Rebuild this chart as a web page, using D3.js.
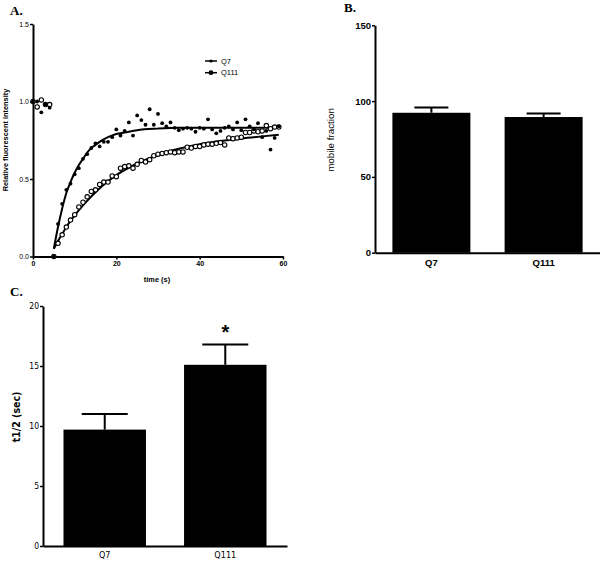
<!DOCTYPE html>
<html>
<head>
<meta charset="utf-8">
<script src="https://cdn.jsdelivr.net/npm/d3@7"></script>
<style>
  body { margin: 0; background: #fff; }
  svg { display: block; }
  text { fill: #000; }
</style>
</head>
<body>
<svg id="fig" width="600" height="563"></svg>
<script>
// panel A: FRAP recovery, one point per second
const times = [0,1,2,3,4,5,6,7,8,9,10,11,12,13,14,15,16,17,18,19,20,21,22,23,24,25,26,27,28,29,
  30,31,32,33,34,35,36,37,38,39,40,41,42,43,44,45,46,47,48,49,50,51,52,53,54,55,56,57,58,59];
const q7Values = [1.0,1.0,0.93,0.98,0.96,0.0,0.21,0.34,0.43,0.47,0.53,0.57,0.63,0.66,0.70,0.73,0.71,0.74,0.74,0.77,
  0.82,0.78,0.81,0.865,0.78,0.91,0.88,0.85,0.95,0.85,0.92,0.86,0.84,0.865,0.83,0.815,0.825,0.83,0.825,0.805,
  0.83,0.825,0.885,0.82,0.795,0.81,0.83,0.84,0.82,0.865,0.815,0.885,0.84,0.82,0.86,0.77,0.81,0.69,0.765,0.84];
const q111Values = [1.0,0.965,1.01,0.98,0.98,0.0,0.085,0.14,0.19,0.235,0.27,0.32,0.35,0.385,0.42,0.43,0.465,0.48,0.48,0.52,
  0.515,0.57,0.58,0.585,0.57,0.595,0.62,0.61,0.625,0.65,0.66,0.665,0.67,0.675,0.67,0.675,0.675,0.705,0.70,0.71,
  0.71,0.72,0.725,0.725,0.73,0.735,0.72,0.765,0.76,0.765,0.77,0.80,0.80,0.81,0.805,0.81,0.845,0.825,0.835,0.835];
// fitted recovery curves
const q7FitT = [5,6,7,8,9,10,11,12,13,14,15,16,18,20,22,25,30,35,40,50,59];
const q7FitY = [0.05,0.19,0.31,0.41,0.48,0.54,0.59,0.63,0.67,0.70,0.72,0.74,0.77,0.79,0.80,0.815,0.825,0.83,0.83,0.83,0.83];
const q111FitT = [5,6,7,8,10,12,15,18,20,25,30,35,40,45,50,55,59];
const q111FitY = [0.05,0.10,0.145,0.19,0.265,0.33,0.415,0.485,0.525,0.60,0.655,0.695,0.725,0.745,0.762,0.775,0.785];

// panels B and C
const groups = ["Q7", "Q111"];
const mobileFraction = [92.3, 89.5];
const mobileFractionErr = [3.5, 2.4];
const halfTime = [9.7, 15.1];
const halfTimeErr = [1.3, 1.7];

const svg = d3.select("#fig");
const sans = "'Liberation Sans', Arial, sans-serif";
const narrow = "'Liberation Sans Narrow', 'Arial Narrow', 'DejaVu Sans Condensed', sans-serif";

function styleAxis(g, font, size, weight) {
  g.select(".domain").attr("stroke", "#000").attr("stroke-width", 2);
  g.selectAll(".tick line").attr("stroke", "#000").attr("stroke-width", 1.5);
  g.selectAll(".tick text").attr("font-family", font).attr("font-size", size)
    .attr("font-weight", weight).attr("fill", "#000");
}

function panelLabel(txt, x, y) {
  svg.append("text").attr("x", x).attr("y", y).text(txt)
    .attr("font-family", "'Liberation Serif', 'Times New Roman', serif")
    .attr("font-weight", "bold").attr("font-size", 13);
}

// ---------- A ----------
const xA = d3.scaleLinear().domain([0, 60]).range([33, 283]);
const yA = d3.scaleLinear().domain([0, 1.5]).range([256.5, 24]);
const gA = svg.append("g");

gA.append("g").attr("transform", "translate(0,256.5)")
  .call(d3.axisBottom(xA).tickValues([0, 20, 40, 60]).tickSize(3).tickSizeOuter(0).tickPadding(2))
  .call(g => styleAxis(g, sans, 7, "bold"));
gA.append("g").attr("transform", "translate(33,0)")
  .call(d3.axisLeft(yA).tickValues([0, 0.5, 1, 1.5]).tickFormat(d3.format(".1f")).tickSize(3).tickSizeOuter(0).tickPadding(1))
  .call(g => styleAxis(g, sans, 7, "normal"));

const fitLine = d3.line().x(d => xA(d[0])).y(d => yA(d[1])).curve(d3.curveMonotoneX);
gA.append("path").datum(q7FitT.map((t, i) => [t, q7FitY[i]]))
  .attr("d", fitLine).attr("fill", "none").attr("stroke", "#000").attr("stroke-width", 2);
gA.append("path").datum(q111FitT.map((t, i) => [t, q111FitY[i]]))
  .attr("d", fitLine).attr("fill", "none").attr("stroke", "#000").attr("stroke-width", 2);

gA.append("g").selectAll("circle").data(times.map((t, i) => [t, q111Values[i]]))
  .join("circle").attr("cx", d => xA(d[0])).attr("cy", d => yA(d[1])).attr("r", 2.2)
  .attr("fill", "#fff").attr("stroke", "#000").attr("stroke-width", 1.1);
gA.append("g").selectAll("circle").data(times.map((t, i) => [t, q7Values[i]]))
  .join("circle").attr("cx", d => xA(d[0])).attr("cy", d => yA(d[1])).attr("r", 1.9)
  .attr("fill", "#000");

// legend
const legA = gA.append("g");
groups.forEach((name, i) => {
  const y = 61 + i * 11.7;
  legA.append("line").attr("x1", 205).attr("x2", 217).attr("y1", y).attr("y2", y)
    .attr("stroke", "#000").attr("stroke-width", 1.5);
  legA.append("circle").attr("cx", 211).attr("cy", y).attr("r", i === 0 ? 1.6 : 2.4).attr("fill", "#000");
  legA.append("text").attr("x", 221).attr("y", y + 2.6).text(name)
    .attr("font-family", sans).attr("font-size", 7.5);
});

gA.append("text").attr("transform", "translate(8,140) rotate(-90)").attr("text-anchor", "middle")
  .text("Relative fluorescent intensity").attr("font-family", sans).attr("font-size", 7.4).attr("font-weight", "bold");
gA.append("text").attr("x", 157).attr("y", 282).attr("text-anchor", "middle")
  .text("time (s)").attr("font-family", sans).attr("font-size", 7.4).attr("font-weight", "bold");
panelLabel("A.", 10, 15);

// ---------- B ----------
const xB = d3.scaleBand().domain(groups).range([375, 600]).paddingInner(0.305).paddingOuter(0.155);
const yB = d3.scaleLinear().domain([0, 150]).range([252.7, 25.3]);
const gB = svg.append("g");

gB.append("g").selectAll("rect").data(groups).join("rect")
  .attr("x", d => xB(d)).attr("width", xB.bandwidth())
  .attr("y", (d, i) => yB(mobileFraction[i])).attr("height", (d, i) => yB(0) - yB(mobileFraction[i]))
  .attr("fill", "#000");
groups.forEach((d, i) => {
  const cx = xB(d) + xB.bandwidth() / 2;
  const top = yB(mobileFraction[i] + mobileFractionErr[i]);
  gB.append("line").attr("x1", cx).attr("x2", cx).attr("y1", yB(mobileFraction[i])).attr("y2", top)
    .attr("stroke", "#000").attr("stroke-width", 2);
  gB.append("line").attr("x1", cx - 17).attr("x2", cx + 17).attr("y1", top).attr("y2", top)
    .attr("stroke", "#000").attr("stroke-width", 2);
});

gB.append("g").attr("transform", `translate(0,${yB(0)})`)
  .call(d3.axisBottom(xB).tickSize(0).tickSizeOuter(0).tickPadding(7))
  .call(g => styleAxis(g, sans, 9.5, "bold"));
gB.append("g").attr("transform", "translate(375,0)")
  .call(d3.axisLeft(yB).tickValues([0, 50, 100, 150]).tickSize(3).tickSizeOuter(0).tickPadding(1))
  .call(g => styleAxis(g, sans, 9.5, "bold"));

gB.append("text").attr("transform", "translate(334,140) rotate(-90)").attr("text-anchor", "middle")
  .text("mobile fraction").attr("font-family", sans).attr("font-size", 9.8);
panelLabel("B.", 344, 12);

// ---------- C ----------
const xC = d3.scaleBand().domain(groups).range([43, 287]).paddingInner(0.316).paddingOuter(0.17);
const yC = d3.scaleLinear().domain([0, 20]).range([546, 306]);
const gC = svg.append("g");

gC.append("g").selectAll("rect").data(groups).join("rect")
  .attr("x", d => xC(d)).attr("width", xC.bandwidth())
  .attr("y", (d, i) => yC(halfTime[i])).attr("height", (d, i) => yC(0) - yC(halfTime[i]))
  .attr("fill", "#000");
groups.forEach((d, i) => {
  const cx = xC(d) + xC.bandwidth() / 2;
  const top = yC(halfTime[i] + halfTimeErr[i]);
  gC.append("line").attr("x1", cx).attr("x2", cx).attr("y1", yC(halfTime[i])).attr("y2", top)
    .attr("stroke", "#000").attr("stroke-width", 2);
  gC.append("line").attr("x1", cx - 23).attr("x2", cx + 23).attr("y1", top).attr("y2", top)
    .attr("stroke", "#000").attr("stroke-width", 2);
});
// significance mark over Q111
gC.append("text").attr("x", xC("Q111") + xC.bandwidth() / 2).attr("y", 339).attr("text-anchor", "middle")
  .text("*").attr("font-family", sans).attr("font-weight", "bold").attr("font-size", 20);

gC.append("g").attr("transform", `translate(0,${yC(0)})`)
  .call(d3.axisBottom(xC).tickSize(0).tickSizeOuter(0).tickPadding(6))
  .call(g => styleAxis(g, narrow, 9, "normal"));
gC.append("g").attr("transform", "translate(43,0)")
  .call(d3.axisLeft(yC).tickValues([0, 5, 10, 15, 20]).tickSize(3).tickSizeOuter(0).tickPadding(1))
  .call(g => styleAxis(g, narrow, 8.5, "normal"));

gC.append("text").attr("transform", "translate(20,417) rotate(-90)").attr("text-anchor", "middle")
  .text("t1/2 (sec)").attr("font-family", narrow).attr("font-size", 10.5).attr("font-weight", "bold");
panelLabel("C.", 10, 296);
</script>
</body>
</html>
